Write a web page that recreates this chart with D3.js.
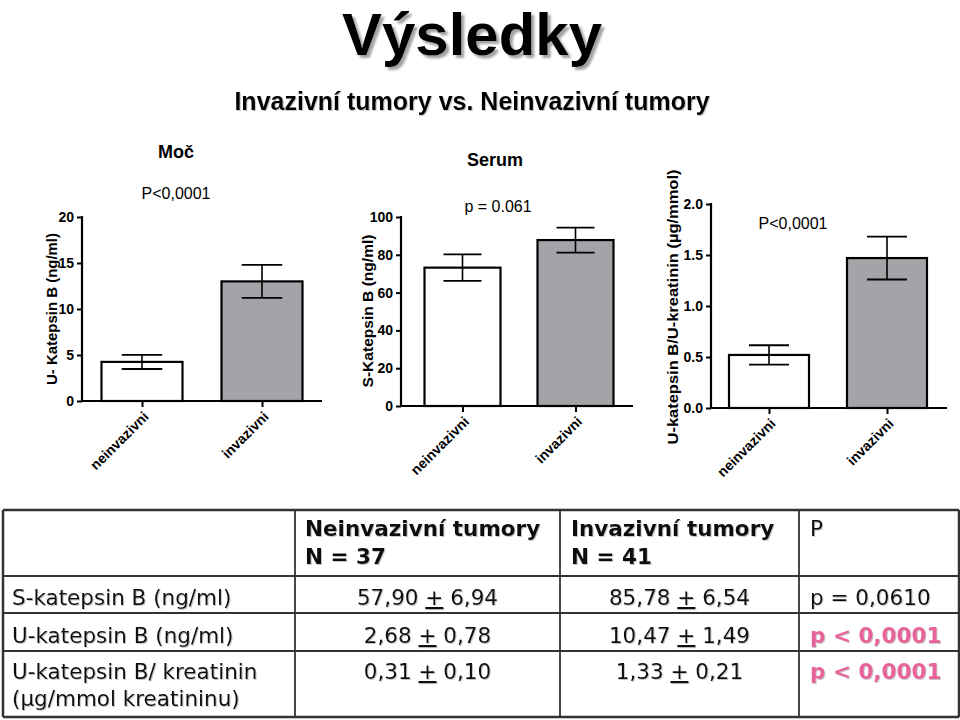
<!DOCTYPE html>
<html>
<head>
<meta charset="utf-8">
<script src="https://cdn.jsdelivr.net/npm/d3@7/dist/d3.min.js"></script>
<style>
  html, body { margin: 0; padding: 0; background: #fff; }
  svg { display: block; }
</style>
</head>
<body>
<svg id="chart" width="960" height="720"></svg>
<script>
// ---------------- DATA ----------------
const categories = ["neinvazivni", "invazivni"];

const mocMean = [4.25, 13.0];
const mocErr = [0.77, 1.8];
const mocTicks = [0, 5, 10, 15, 20];

const serumMean = [73.2, 87.8];
const serumErr = [7.0, 6.6];
const serumTicks = [0, 20, 40, 60, 80, 100];

const ratioMean = [0.52, 1.47];
const ratioErr = [0.095, 0.21];
const ratioTicks = [0, 0.5, 1.0, 1.5, 2.0];

const barFills = ["#ffffff", "#a3a3a8"];

const tableHeaderNeinv = ["Neinvazivní tumory", "N = 37"];
const tableHeaderInv = ["Invazivní tumory", "N = 41"];
const tableHeaderP = "P";
const rowLabels = [["S-katepsin B (ng/ml)"], ["U-katepsin B (ng/ml)"], ["U-katepsin B/ kreatinin", "(\u00b5g/mmol kreatininu)"]];
const neinvMean = ["57,90", "2,68", "0,31"];
const neinvSd = ["6,94", "0,78", "0,10"];
const invMean = ["85,78", "10,47", "1,33"];
const invSd = ["6,54", "1,49", "0,21"];
const pValues = ["p = 0,0610", "p < 0,0001", "p < 0,0001"];
const pHighlight = [false, true, true];

// ---------------- SETUP ----------------
const svg = d3.select("#chart");
const defs = svg.append("defs");
const f = defs.append("filter").attr("id", "shadow").attr("x", "-5%").attr("y", "-5%").attr("width", "110%").attr("height", "120%");
f.append("feDropShadow").attr("dx", 1).attr("dy", 1).attr("stdDeviation", 0.6).attr("flood-color", "#999").attr("flood-opacity", 0.55);
const f2 = defs.append("filter").attr("id", "titleShadow").attr("x", "-5%").attr("y", "-10%").attr("width", "115%").attr("height", "130%");
f2.append("feDropShadow").attr("dx", 3).attr("dy", 3).attr("stdDeviation", 0.8).attr("flood-color", "#999").attr("flood-opacity", 0.9);

const chartFont = "'Liberation Sans', Arial, Helvetica, sans-serif";
const tableFont = "'DejaVu Sans', Verdana, sans-serif";

// Title
svg.append("text").attr("x", 472).attr("y", 54.5).attr("text-anchor", "middle")
  .attr("font-family", chartFont).attr("font-weight", "bold").attr("font-size", 60)
  .attr("fill", "#000").attr("filter", "url(#titleShadow)").text("Výsledky");

svg.append("text").attr("x", 472).attr("y", 110).attr("text-anchor", "middle")
  .attr("font-family", chartFont).attr("font-weight", "bold").attr("font-size", 25)
  .attr("fill", "#000").attr("filter", "url(#shadow)")
  .text("Invazivní tumory vs. Neinvazivní tumory");

// ---------------- CHART FUNCTION ----------------
function drawChart(cfg) {
  const g = svg.append("g");
  const y = d3.scaleLinear().domain(cfg.domain).range([cfg.y0, cfg.y1]);
  const x = d3.scalePoint().domain(categories).range(cfg.xRange).padding(0.5);

  // bars
  g.selectAll("rect.bar").data(cfg.mean).enter().append("rect")
    .attr("x", (d, i) => x(categories[i]) - cfg.barW / 2)
    .attr("y", d => y(d))
    .attr("width", cfg.barW)
    .attr("height", d => y(cfg.domain[0]) - y(d))
    .attr("fill", (d, i) => barFills[i])
    .attr("stroke", "#000").attr("stroke-width", 2.2);

  // error bars
  cfg.mean.forEach((m, i) => {
    const cx = x(categories[i]);
    const e = cfg.err[i];
    const hw = cfg.barW / 4;
    g.append("line").attr("x1", cx).attr("x2", cx).attr("y1", y(m + e)).attr("y2", y(m - e))
      .attr("stroke", "#000").attr("stroke-width", 1.6);
    [m + e, m - e].forEach(v => {
      g.append("line").attr("x1", cx - hw).attr("x2", cx + hw).attr("y1", y(v)).attr("y2", y(v))
        .attr("stroke", "#000").attr("stroke-width", 1.8);
    });
  });

  // y axis
  const yAxis = d3.axisLeft(y).tickValues(cfg.ticks).tickSize(5).tickPadding(3).tickFormat(cfg.fmt);
  const ya = g.append("g").attr("transform", `translate(${cfg.axisX},0)`).call(yAxis);
  ya.select(".domain").attr("stroke-width", 2.2).attr("d", `M0,${cfg.y1 - 1}V${cfg.y0 + 1}`);
  ya.selectAll(".tick line").attr("stroke-width", 2);
  ya.selectAll(".tick text").attr("font-family", chartFont).attr("font-weight", "bold")
    .attr("font-size", 14).attr("fill", "#000");

  // x axis
  const xAxis = d3.axisBottom(x).tickSize(6).tickFormat("");
  const xa = g.append("g").attr("transform", `translate(0,${cfg.y0})`).call(xAxis);
  xa.select(".domain").attr("stroke-width", 2.2).attr("d", `M${cfg.axisX - 1},0H${cfg.axisEnd}`);
  xa.selectAll(".tick line").attr("stroke-width", 2);

  categories.forEach(c => {
    const tx = x(c) + 4, ty = cfg.y0 + 13;
    g.append("text").attr("transform", `translate(${tx},${ty}) rotate(-45)`)
      .attr("text-anchor", "end").attr("dy", "0.35em")
      .attr("font-family", chartFont).attr("font-weight", "bold").attr("font-size", 14)
      .attr("fill", "#000").text(c);
  });

  // y label
  g.append("text").attr("transform", `translate(${cfg.labelX},${cfg.labelY}) rotate(-90)`)
    .attr("text-anchor", "middle").attr("dy", "0.35em")
    .attr("font-family", chartFont).attr("font-weight", "bold").attr("font-size", 15)
    .attr("textLength", cfg.labelLen).attr("lengthAdjust", "spacingAndGlyphs")
    .attr("fill", "#000").text(cfg.label);

  if (cfg.title) {
    g.append("text").attr("x", cfg.title.x).attr("y", cfg.title.y).attr("text-anchor", "middle")
      .attr("font-family", chartFont).attr("font-weight", "bold").attr("font-size", 18)
      .attr("fill", "#000").text(cfg.title.text);
  }
  g.append("text").attr("x", cfg.pText.x).attr("y", cfg.pText.y).attr("text-anchor", "middle")
    .attr("font-family", chartFont).attr("font-size", 16)
    .attr("fill", "#000").text(cfg.pText.text);
}

drawChart({
  mean: mocMean, err: mocErr, ticks: mocTicks, domain: [0, 20], fmt: d3.format("d"),
  y0: 401, y1: 217, xRange: [82, 322], axisX: 82, axisEnd: 322, barW: 81,
  label: "U- Katepsin B (ng/ml)", labelX: 52, labelY: 309, labelLen: 152,
  title: { text: "Moč", x: 176, y: 158 },
  pText: { text: "P<0,0001", x: 176, y: 199 }
});

drawChart({
  mean: serumMean, err: serumErr, ticks: serumTicks, domain: [0, 100], fmt: d3.format("d"),
  y0: 406, y1: 217, xRange: [406, 632], axisX: 401, axisEnd: 633, barW: 76,
  label: "S-Katepsin B (ng/ml)", labelX: 368, labelY: 311, labelLen: 153,
  title: { text: "Serum", x: 495, y: 166 },
  pText: { text: "p = 0.061", x: 498, y: 212 }
});

drawChart({
  mean: ratioMean, err: ratioErr, ticks: ratioTicks, domain: [0, 2], fmt: d3.format(".1f"),
  y0: 408, y1: 204, xRange: [710, 946], axisX: 711, axisEnd: 947, barW: 80,
  label: "U-katepsin B/U-kreatinin (\u00b5g/mmol)", labelX: 673, labelY: 307, labelLen: 275,
  title: null,
  pText: { text: "P<0,0001", x: 793, y: 229 }
});

// ---------------- TABLE ----------------
const tg = svg.append("g");
const colX = [3, 295, 560, 799, 959];
const rowY = [510, 576, 613, 651, 717];
colX.forEach((cx, i) => {
  tg.append("line").attr("x1", cx).attr("x2", cx).attr("y1", rowY[0]).attr("y2", rowY[rowY.length - 1])
    .attr("stroke", "#333").attr("stroke-width", (i === 0 || i === colX.length - 1) ? 2.5 : 1.8);
});
rowY.forEach((ry, i) => {
  tg.append("line").attr("x1", colX[0]).attr("x2", colX[colX.length - 1]).attr("y1", ry).attr("y2", ry)
    .attr("stroke", "#333").attr("stroke-width", (i === 0 || i === rowY.length - 1) ? 2.5 : 1.8);
});

const tt = tg.append("g").attr("filter", "url(#shadow)");
function tText(x, y, s, opts = {}) {
  return tt.append("text").attr("x", x).attr("y", y)
    .attr("font-family", tableFont).attr("font-size", opts.size || 21.5)
    .attr("font-weight", opts.bold ? "bold" : "normal")
    .attr("text-anchor", opts.anchor || "start")
    .attr("fill", opts.fill || "#111").text(s);
}
tText(305, 536, tableHeaderNeinv[0], { bold: true });
tText(305, 564, tableHeaderNeinv[1], { bold: true });
tText(571, 536, tableHeaderInv[0], { bold: true });
tText(571, 564, tableHeaderInv[1], { bold: true });
tText(810, 536, tableHeaderP);

const rowBase = [605, 643, 679];
rowLabels.forEach((lines, i) => {
  lines.forEach((ln, j) => tText(12, rowBase[i] + j * 27, ln));
});

function valText(cx, y, mean, sd) {
  const t = tText(cx, y, "", { anchor: "middle" });
  t.append("tspan").text(mean + " ");
  t.append("tspan").attr("text-decoration", "underline").text("+");
  t.append("tspan").text(" " + sd);
}
neinvMean.forEach((m, i) => valText(427.5, rowBase[i], m, neinvSd[i]));
invMean.forEach((m, i) => valText(679.5, rowBase[i], m, invSd[i]));
pValues.forEach((p, i) => {
  tText(810, rowBase[i], p, pHighlight[i] ? { bold: true, fill: "#e8649a" } : {});
});
</script>
</body>
</html>
